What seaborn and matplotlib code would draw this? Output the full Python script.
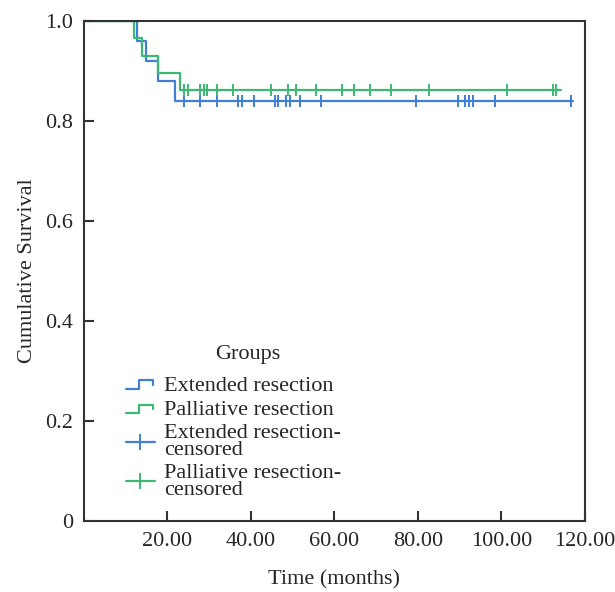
import matplotlib
matplotlib.use('Agg')
import matplotlib.pyplot as plt
import seaborn as sns
import pandas as pd
from matplotlib.lines import Line2D
from matplotlib.legend_handler import HandlerBase

# step curves (time in months, cumulative survival)
ext_times = [0, 12.8, 14.9, 17.8, 21.8, 117.1]
ext_surv = [1.0, 0.96, 0.92, 0.88, 0.84, 0.84]
pal_times = [0, 12.0, 14.0, 17.8, 23.0, 114.4]
pal_surv = [1.0, 0.966, 0.931, 0.897, 0.862, 0.862]

# censored observations
ext_cens = [24.0, 27.9, 31.8, 37.0, 37.8, 40.8, 45.7, 46.5, 48.5, 49.3, 51.7,
            56.8, 79.5, 89.5, 91.4, 92.3, 93.2, 98.4, 116.6]
pal_cens = [24.0, 24.8, 27.9, 28.7, 29.5, 31.8, 35.8, 44.7, 48.8, 50.7, 55.7,
            61.7, 64.6, 68.6, 73.5, 82.6, 101.4, 112.4, 113.1]

x_ticks = [20, 40, 60, 80, 100, 120]
x_labels = ['20.00', '40.00', '60.00', '80.00', '100.00', '120.00']
y_ticks = [0, 0.2, 0.4, 0.6, 0.8, 1.0]
y_labels = ['0', '0.2', '0.4', '0.6', '0.8', '1.0']

blue = '#3f7fd6'
green = '#3db872'

sns.set_style('ticks')
plt.rcParams['font.family'] = ['Liberation Serif', 'DejaVu Serif']
plt.rcParams['font.size'] = 16


def surv_at(times, surv, t):
    val = surv[0]
    for ti, si in zip(times, surv):
        if ti <= t:
            val = si
    return val


fig = plt.figure(figsize=(6.15, 5.92), dpi=100)
ax = fig.add_axes([0.1366, 0.120, 0.8144, 0.8445])

sns.lineplot(x=ext_times, y=ext_surv, drawstyle='steps-post', color=blue,
             lw=1.6, ax=ax, estimator=None, sort=False)
sns.lineplot(x=pal_times, y=pal_surv, drawstyle='steps-post', color=green,
             lw=1.6, ax=ax, estimator=None, sort=False)

ext_df = pd.DataFrame({'t': ext_cens, 's': [surv_at(ext_times, ext_surv, t) for t in ext_cens]})
pal_df = pd.DataFrame({'t': pal_cens, 's': [surv_at(pal_times, pal_surv, t) for t in pal_cens]})
sns.scatterplot(data=ext_df, x='t', y='s', marker='|', s=70, color=blue,
                linewidth=1.4, ax=ax, zorder=3)
sns.scatterplot(data=pal_df, x='t', y='s', marker='|', s=70, color=green,
                linewidth=1.4, ax=ax, zorder=3)

ax.set_xlim(0, 120)
ax.set_ylim(0, 1.0)
ax.set_xticks(x_ticks)
ax.set_xticklabels(x_labels)
ax.set_yticks(y_ticks)
ax.set_yticklabels(y_labels)
ax.tick_params(direction='in', length=7, width=1.5, color='#333333',
               labelsize=16, pad=8)
for sp in ax.spines.values():
    sp.set_color('#333333')
    sp.set_linewidth(1.5)
ax.set_xlabel('Time (months)', fontsize=16, labelpad=14)
ax.set_ylabel('Cumulative Survival', fontsize=16, labelpad=6)


class StepHandler(HandlerBase):
    def create_artists(self, legend, orig_handle, xdescent, ydescent,
                       width, height, fontsize, trans):
        x0 = -xdescent
        y0 = -ydescent
        xs = [x0, x0 + 0.45 * width, x0 + 0.45 * width, x0 + 0.95 * width, x0 + 0.95 * width]
        ys = [y0 + 0.15 * height, y0 + 0.15 * height, y0 + 0.7 * height,
              y0 + 0.7 * height, y0 + 0.4 * height]
        ln = Line2D(xs, ys, color=orig_handle.get_color(), lw=1.6, transform=trans)
        return [ln]


h1 = Line2D([], [], color=blue)
h2 = Line2D([], [], color=green)
h3 = Line2D([], [], color=blue, marker='|', markersize=11, markeredgewidth=1.4, lw=1.6)
h4 = Line2D([], [], color=green, marker='|', markersize=11, markeredgewidth=1.4, lw=1.6)

leg = ax.legend([h1, h2, h3, h4],
                ['Extended resection', 'Palliative resection',
                 'Extended resection-\ncensored', 'Palliative resection-\ncensored'],
                handler_map={h1: StepHandler(), h2: StepHandler()},
                loc='upper left', bbox_to_anchor=(0.066, 0.309), frameon=False,
                fontsize=16, handlelength=1.3, handletextpad=0.4,
                labelspacing=0.18, borderaxespad=0)
for t in leg.get_texts():
    t.set_linespacing(0.84)

ax.text(0.327, 0.332, 'Groups', transform=ax.transAxes, ha='center',
        va='center', fontsize=16)

fig.savefig('out.png', dpi=100)
